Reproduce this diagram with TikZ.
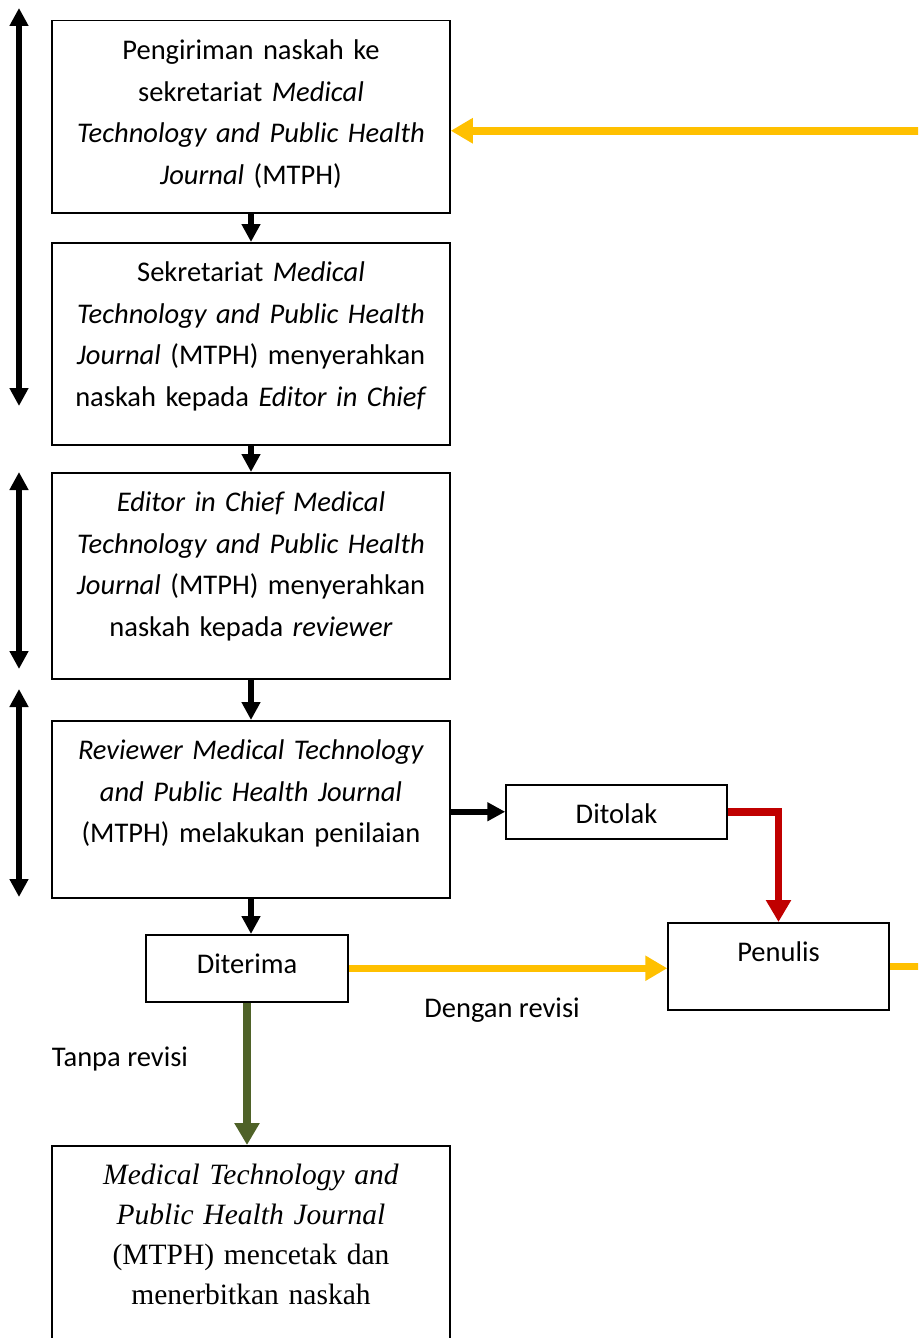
\documentclass[tikz,border=0pt]{standalone}
\usepackage{fontspec}
\setmainfont{Carlito}
\newfontfamily\serifbook{Liberation Serif}
\usetikzlibrary{arrows.meta}
\definecolor{tipyellow}{HTML}{FFC000}
\definecolor{tipred}{HTML}{C00000}
\definecolor{tipgreen}{HTML}{4F6228}

\begin{document}
\begin{tikzpicture}[x=1pt,y=-1pt,
  stage/.style 2 args={draw,line width=1.5pt,text width=#1,align=center,inner sep=0pt,
    anchor=north,text height=39pt,text depth=#2,font=\fontsize{28.5}{41.5}\selectfont},
  note/.style={font=\fontsize{28.5}{41.5}\selectfont},
  link/.style={line width=5.5pt,-{Triangle[length=18pt,width=18pt]}},
  span/.style={line width=5.5pt,{Triangle[length=18pt,width=18pt]}-{Triangle[length=18pt,width=18pt]}},
  back/.style={line width=7.5pt,-{Triangle[length=22pt,width=24pt]}}]
\useasboundingbox (0,0) rectangle (918,1338);
\clip (0,0) rectangle (918,1338);

\node[stage={398pt}{153pt}] (send) at (251,20)
  {Pengiriman naskah ke\\ sekretariat \textit{Medical}\\ \textit{Technology and Public Health}\\ \textit{Journal} (MTPH)};
\node[stage={398pt}{163pt}] (secretariat) at (251,242)
  {Sekretariat \textit{Medical}\\ \textit{Technology and Public Health}\\ \textit{Journal} (MTPH) menyerahkan\\ naskah kepada \textit{Editor in Chief}};
\node[stage={398pt}{167pt}] (chief) at (251,472)
  {\textit{Editor in Chief Medical}\\ \textit{Technology and Public Health}\\ \textit{Journal} (MTPH) menyerahkan\\ naskah kepada \textit{reviewer}};
\node[stage={398pt}{138pt}] (review) at (251,720)
  {\textit{Reviewer Medical Technology}\\ \textit{and Public Health Journal}\\ (MTPH) melakukan penilaian};
\node[stage={221pt}{15pt}] (reject) at (616.5,784) {Ditolak};
\node[stage={202pt}{28pt}] (accept) at (247,934) {Diterima};
\node[stage={221pt}{48pt}] (author) at (778.5,922) {Penulis};
\node[stage={398pt}{176pt},font=\serifbook\fontsize{29.5}{40}\selectfont] (publish) at (251,1145)
  {\textit{Medical Technology and}\\ \textit{Public Health Journal}\\ (MTPH) mencetak dan\\ menerbitkan naskah};

\node[note] (withrev) at (502,1010) {Dengan revisi};
\node[note] (norev) at (120,1059) {Tanpa revisi};

% stages on the left
\coordinate (s1a) at (19,8);
\coordinate (s1b) at (19,406);
\coordinate (s2a) at (19,472);
\coordinate (s2b) at (19,669);
\coordinate (s3a) at (19,689);
\coordinate (s3b) at (19,897);
\draw[span] (s1a) -- (s1b);
\draw[span] (s2a) -- (s2b);
\draw[span] (s3a) -- (s3b);

\draw[link] (send.south) -- (secretariat.north);
\draw[link] (secretariat.south) -- (chief.north);
\draw[link] (chief.south) -- (review.north);
\draw[link] (review.south) -- (review.south |- accept.north);
\draw[link] (review.east |- reject.west) -- (reject.west);

\draw[back,tipred] (reject.east) -| (author.north);
\draw[back,tipyellow] (accept.east) -- (accept.east -| author.west);
\draw[back,tipyellow] (author.east) -- ++(50,0) |- ([yshift=-14pt]send.east);
\draw[back,tipgreen] (accept.south) -- (accept.south |- publish.north);
\end{tikzpicture}
\end{document}
